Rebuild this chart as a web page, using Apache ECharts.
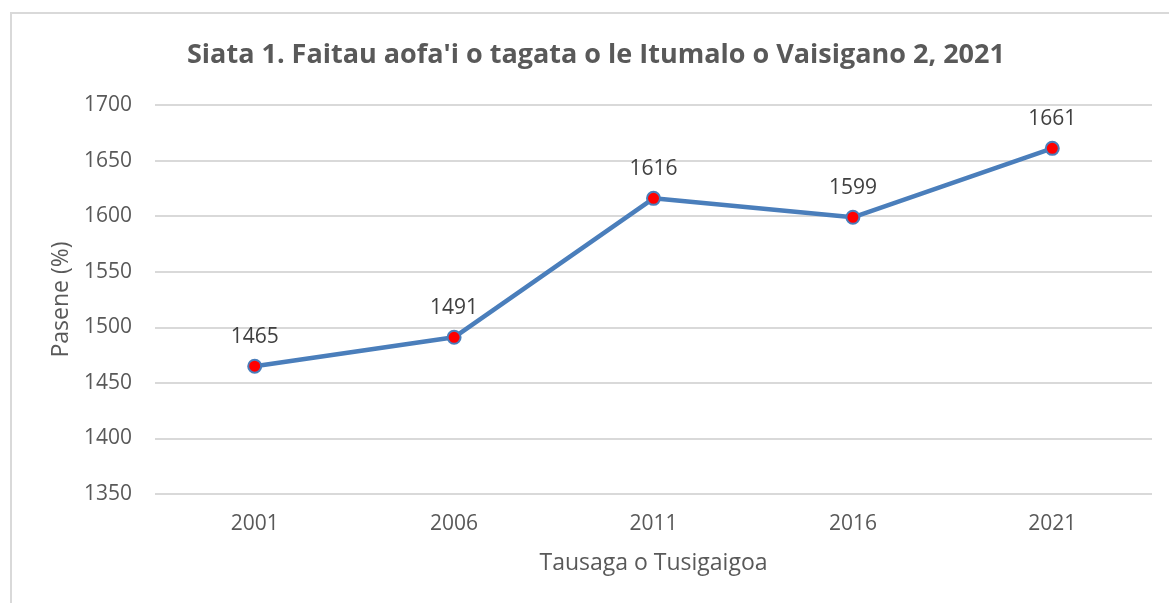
<!DOCTYPE html>
<html>
<head>
<meta charset="utf-8">
<script src="https://cdn.jsdelivr.net/npm/echarts@6/dist/echarts.min.js"></script>
<style>
  html, body { margin: 0; padding: 0; background: #fff; }
  #chart { width: 1169px; height: 603px; }
  /* light frame of the chart area (left and top edge visible) */
  .frame {
    position: absolute; left: 10px; top: 12px; right: -5px; bottom: -5px;
    border: 2px solid #d9d9d9; pointer-events: none;
  }
</style>
</head>
<body>
<div class="frame"></div>
<div id="chart"></div>
<script>
// categories (years) and population values
const years = ['2001', '2006', '2011', '2016', '2021']
const population = [1465, 1491, 1616, 1599, 1661]

const font = '"Open Sans", sans-serif'
const textColor = '#595959'

const chart = echarts.init(document.getElementById('chart'))
chart.setOption({
  animation: false,
  title: {
    text: "Siata 1. Faitau aofa'i o tagata o le Itumalo o Vaisigano 2, 2021",
    left: 187,
    top: 42,
    padding: 0,
    textStyle: { fontFamily: font, fontSize: 27, fontWeight: 'bold', color: textColor }
  },
  grid: { left: 155, right: 17, top: 105, bottom: 109 },
  xAxis: {
    type: 'category',
    data: years,
    name: 'Tausaga o Tusigaigoa',
    nameLocation: 'middle',
    nameGap: 58,
    nameTextStyle: { fontFamily: font, fontSize: 23, color: textColor },
    axisLine: { show: false },
    axisTick: { show: false },
    axisLabel: { fontFamily: font, fontSize: 21, color: textColor, margin: 20 }
  },
  yAxis: {
    type: 'value',
    min: 1350,
    max: 1700,
    interval: 50,
    name: 'Pasene (%)',
    nameLocation: 'middle',
    nameRotate: 90,
    nameGap: 81,
    nameTextStyle: { fontFamily: font, fontSize: 23, color: textColor },
    axisLabel: { fontFamily: font, fontSize: 21, color: textColor, margin: 23, formatter: v => String(v) },
    splitLine: { lineStyle: { color: '#d9d9d9', width: 2 } }
  },
  series: [{
    type: 'line',
    data: population,
    symbol: 'circle',
    symbolSize: 13,
    lineStyle: { color: '#4a7ebb', width: 4.5 },
    itemStyle: { color: '#ff0000', borderColor: '#4a7ebb', borderWidth: 2 },
    label: {
      show: true,
      position: 'top',
      distance: 11,
      fontFamily: font,
      fontSize: 21,
      color: '#404040'
    }
  }]
})
</script>
</body>
</html>
